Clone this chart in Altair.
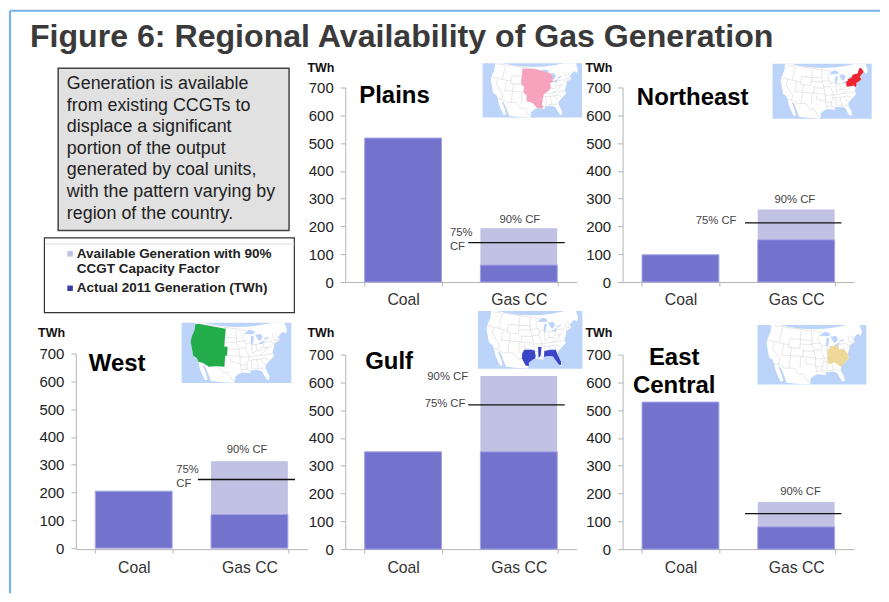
import altair as alt
import pandas as pd

FONT = "Liberation Sans"
title_text = "Figure 6: Regional Availability of Gas Generation"
box_lines = ["Generation is available", "from existing CCGTs to", "displace a significant",
             "portion of the output", "generated by coal units,", "with the pattern varying by",
             "region of the country."]
box_line_y = [82.5, 104.5, 126, 147.5, 169, 191, 212.5]
legend_lines = ["Available Generation with 90%", "CCGT Capacity Factor", "Actual 2011 Generation (TWh)"]

categories = ["Coal", "Gas CC"]
tick_values = [0, 100, 200, 300, 400, 500, 600, 700]

regions = ["Plains", "Northeast", "West", "Gulf", "East Central"]
coal = [518, 98, 205, 350, 529]
gas_actual = [61, 152, 121, 350, 80]
gas_available = [194, 261, 313, 623, 170]
cf75 = [142, 213, 247, 519, 128]

BAR = "#7373cd"
EDGE = "#a3a3e6"
HATCH = "#c1c1e3"
OCEAN = "#bcd4fa"

land = [(-128, 50), (-125, 50), (-124.7, 48.4), (-124, 46), (-124.5, 42.8), (-124.3, 40.4), (-122.5, 37.7),
        (-120.6, 34.6), (-118.4, 34), (-117.1, 32.5), (-115.8, 30), (-114.4, 28), (-113.2, 26.5), (-112, 25),
        (-110.8, 25.5), (-112, 28), (-114.7, 31.7), (-113, 31), (-110.5, 27.5), (-109, 25), (-103, 25), (-97.7, 25),
        (-97.2, 26), (-97.2, 27.8),
        (-95, 29.2), (-93.5, 29.7), (-91, 29.3), (-89.2, 29.1), (-89.5, 30.3), (-86, 30.4), (-84.2, 30),
        (-83, 29), (-82.7, 27.8), (-81.8, 26), (-81, 25.1), (-80.2, 25.5), (-80.1, 27), (-81.3, 30.5),
        (-80.9, 32), (-79, 33.3), (-77.8, 34), (-75.6, 35.3), (-76, 37), (-75, 38.5), (-74.1, 39.8),
        (-74, 40.6), (-72, 41), (-70, 41.7), (-70.7, 43), (-69, 44), (-67, 44.8), (-65.5, 43.6), (-64, 45),
        (-64, 50), (-72, 50), (-80, 50), (-88, 50), (-96, 50), (-104, 50), (-112, 50), (-120, 50)]
lakes = [
    [(-92, 46.8), (-88, 48.6), (-85, 47.8), (-84.7, 46.6), (-87, 46.5), (-90, 46.7)],
    [(-87.8, 42), (-87.2, 41.7), (-86.3, 42.8), (-85.5, 45.5), (-87, 45.8), (-87.7, 44)],
    [(-84.6, 46), (-81, 46), (-80, 44.6), (-81.7, 43.2), (-82.5, 43), (-83.5, 44.2)],
    [(-83.4, 41.7), (-81, 41.5), (-78.9, 42.8), (-80.5, 42.7), (-82.7, 42.1)],
    [(-79.8, 43.2), (-76.4, 43.5), (-76.3, 44.1), (-79, 43.9)],
]
west_poly = [[(-124.7, 48.4), (-123, 49), (-104, 49), (-104, 41), (-102, 41), (-102, 37), (-103, 37), (-103, 32),
              (-106.5, 32), (-108.2, 31.8), (-111, 31.3), (-114.8, 32.5), (-117.1, 32.5), (-118.4, 34),
              (-120.6, 34.6), (-122.5, 37.7), (-124.3, 40.4), (-124.5, 42.8), (-124, 46)]]
plains_poly = [[(-104, 49), (-95, 49), (-89.5, 48), (-84.5, 46.5), (-83, 46), (-82.5, 43), (-83, 41.7), (-84.8, 41.7),
                (-84.8, 39), (-86, 38), (-88, 37), (-89.5, 36.5), (-90, 35), (-90.5, 33), (-91, 31), (-90, 30.2),
                (-91, 29.4), (-94, 29.8), (-95, 31), (-97, 32.5), (-100, 33), (-100, 36), (-102, 37), (-102, 40),
                (-104, 41)]]
northeast_poly = [[(-80.5, 42), (-79, 42.7), (-79, 43.3), (-76.5, 43.5), (-75, 45), (-71.5, 45), (-70, 46.7), (-69, 47.4),
                   (-67.8, 47), (-67, 44.8), (-69, 44), (-70.7, 43), (-70, 41.7), (-72, 41), (-74, 40.6), (-74, 39.8),
                   (-75, 38.5), (-75.7, 39.7), (-80.5, 39.7)]]
gulf_poly = [[(-101, 32), (-100, 33.8), (-96, 33.8), (-94, 33.5), (-93.5, 31), (-93.8, 29.7), (-95, 29.2), (-97.2, 27.8),
              (-97.2, 26), (-99, 26.5), (-101, 29.7)],
             [(-92, 35), (-90, 35), (-90.5, 32), (-91, 30.5), (-92, 30), (-92, 33)],
             [(-88.5, 33), (-85, 33.3), (-82, 33), (-81.4, 30.7), (-80.2, 27), (-80.5, 25.5), (-81.5, 25.8), (-82.8, 28),
              (-84, 30), (-86, 30.4), (-89, 30.3)]]
east_poly = [[(-87.5, 40), (-84.8, 41.7), (-80.6, 41.8), (-80.5, 39.7), (-77.5, 39.5), (-76, 37), (-75.6, 35.3),
              (-77.8, 34), (-79, 33.3), (-80.9, 32), (-82.5, 33), (-84, 34.5), (-86, 34), (-87.5, 34), (-88, 36.5),
              (-87.5, 38)]]
borders = [
    [(-123, 49), (-95, 49), (-89.5, 48)], [(-117.1, 32.5), (-114.8, 32.5), (-111, 31.3), (-108.2, 31.8), (-106.5, 32),
                                           (-103, 29.2), (-101, 29.7), (-99, 26.5), (-97.2, 26)],
    [(-117, 49), (-117, 42)], [(-124.3, 42), (-111, 42), (-111, 45)], [(-120, 42), (-120, 39), (-114.6, 35), (-114.8, 32.5)],
    [(-114, 42), (-114, 37)], [(-114, 37), (-94.6, 37)], [(-111, 42), (-111, 41), (-104, 41)], [(-109, 41), (-109, 31.8)],
    [(-111, 45), (-104, 45), (-96.5, 45)], [(-104, 49), (-104, 41)], [(-103, 37), (-103, 32)], [(-102, 41), (-102, 37)],
    [(-104, 43), (-96.5, 43)], [(-102, 40), (-95.3, 40)], [(-97, 49), (-96.5, 43), (-95.3, 40), (-94.6, 37), (-94.5, 33.6)],
    [(-100, 36.5), (-100, 34.5), (-94.5, 33.6), (-94, 30)], [(-96.5, 43.5), (-91.2, 43.5)], [(-92, 46.7), (-92.8, 45), (-91.2, 43.5),
     (-90.5, 41.5), (-91.5, 40.5), (-90.2, 38.7), (-89.5, 36.5), (-90, 35), (-91, 33), (-91, 31), (-89.7, 30.3)],
    [(-95.3, 40.6), (-91.5, 40.6)], [(-94.6, 36.5), (-89.5, 36.5), (-82, 36.6), (-75.9, 36.6)], [(-94.5, 33), (-91, 33)],
    [(-91, 31), (-94, 31)], [(-90.5, 42.5), (-87.7, 42.5)], [(-87.5, 41.7), (-87.5, 38)], [(-84.8, 41.7), (-84.8, 39)],
    [(-87.5, 41.7), (-83.4, 41.7)], [(-88, 37.5), (-84.8, 39), (-82.5, 38.5), (-80.5, 40.6), (-80.5, 42)],
    [(-90, 35), (-84.3, 35), (-81, 35.2), (-78.6, 33.9)], [(-88.2, 35), (-88.5, 30.3)], [(-85.6, 35), (-85, 31), (-87.6, 31)],
    [(-85, 31), (-81.5, 30.7)], [(-83.2, 35), (-81, 32.2)], [(-80.5, 39.7), (-75.7, 39.7)], [(-79.5, 39.7), (-78, 39), (-83.5, 36.6)],
    [(-80.5, 42), (-75.3, 42), (-75, 41), (-74, 41)], [(-73.5, 42), (-73.4, 45)], [(-71.5, 45), (-71, 43), (-70.7, 43)],
    [(-73.5, 42), (-70, 42)], [(-73.6, 41), (-71.8, 41), (-71.8, 42)],
]


def clockwise(ring):
    # d3-geo wants exterior rings clockwise; orient by the signed planar area
    closed = list(ring) + [ring[0]]
    area = sum(a[0] * b[1] - b[0] * a[1] for a, b in zip(closed, closed[1:]))
    if area > 0:
        closed = closed[::-1]
    return [list(p) for p in closed]


def polygon_features(polys):
    return [{"type": "Feature", "properties": {},
             "geometry": {"type": "Polygon", "coordinates": [clockwise(r)]}} for r in polys]


def line_features(lines):
    return [{"type": "Feature", "properties": {},
             "geometry": {"type": "LineString", "coordinates": [list(p) for p in l]}} for l in lines]


def text(content, x, y, size, color="#333", weight="normal", align="left", baseline="middle"):
    return alt.Chart(alt.Data(values=[{"a": 1}])).mark_text(
        text=content, font=FONT, fontSize=size, color=color, fontWeight=weight, align=align, baseline=baseline
    ).encode(x=alt.value(x), y=alt.value(y))


def box(x0, x1, y0, y1, fill, stroke=None, sw=1.0):
    kw = {"stroke": stroke, "strokeWidth": sw} if stroke else {}
    return alt.Chart(alt.Data(values=[{"a": 1}])).mark_rect(fill=fill, **kw).encode(
        x=alt.value(x0), x2=alt.value(x1), y=alt.value(y0), y2=alt.value(y1))


def rule(x0, x1, y0, y1, color, sw):
    return alt.Chart(alt.Data(values=[{"a": 1}])).mark_rule(color=color, strokeWidth=sw).encode(
        x=alt.value(x0), x2=alt.value(x1), y=alt.value(y0), y2=alt.value(y1))


def map_layers(rect, region, color, ox, oy):
    x0, x1, y0, y1 = rect[0] - ox, rect[1] - ox, rect[2] - oy, rect[3] - oy
    w = x1 - x0
    proj = dict(type="albers", scale=128 * w / 110, translate=[x0 + 0.5 * w, y0 + 0.49 * (y1 - y0)],
                clipExtent=[[x0, y0], [x1, y1]])

    def geo(features, **mark):
        return alt.Chart(alt.Data(values=features)).mark_geoshape(clip=False, **mark).project(**proj)

    return [
        box(x0, x1, y0, y1, OCEAN),
        geo(polygon_features([land]), fill="white", strokeWidth=0),
        geo(line_features(borders), filled=False, stroke="#cfcfcf", strokeWidth=0.5),
        geo(polygon_features(lakes), fill=OCEAN, strokeWidth=0),
        geo(polygon_features(region), fill=color, strokeWidth=0),
    ]


def panel(i, ox, oy, col_w, map_rect, map_poly, map_color, twh, names, labels, line_x, y_shift=0):
    df = pd.DataFrame({"cat": categories, "v": [coal[i], gas_actual[i]]})
    avail = pd.DataFrame({"cat": [categories[1]], "v": [gas_available[i]], "v2": [gas_actual[i]]})
    cf = pd.DataFrame({"v": [cf75[i]]})
    xs = alt.Scale(domain=categories, range=[0, 232], paddingInner=0.336, paddingOuter=0.168)
    ys = alt.Scale(domain=[0, 700], nice=False, range=[195 - y_shift, -y_shift])
    xaxis = alt.Axis(labelAngle=0, tickBand="extent", labelFontSize=15.8, labelColor="#333", labelFont=FONT,
                     labelPadding=7, tickSize=4, tickColor="#b5b5b5", domainColor="#b5b5b5", grid=False)
    yaxis = alt.Axis(values=tick_values, labelOverlap=False, labelFontSize=15, labelColor="#222", labelFont=FONT,
                     labelPadding=7, tickSize=5, tickColor="#b5b5b5", domainColor="#b5b5b5", grid=False)
    bars = alt.Chart(df).mark_bar(fill=BAR, stroke=EDGE, strokeWidth=1).encode(
        x=alt.X("cat:N", scale=xs, sort=categories, title=None, axis=xaxis),
        y=alt.Y("v:Q", scale=ys, title=None, axis=yaxis),
    )
    hatch = alt.Chart(avail).mark_bar(fill=HATCH).encode(
        x=alt.X("cat:N", scale=xs, sort=categories, title=None, axis=xaxis),
        y=alt.Y("v:Q", scale=ys, title=None, axis=yaxis), y2="v2:Q")
    line = alt.Chart(cf).mark_rule(color="#111", strokeWidth=1.3).encode(
        y=alt.Y("v:Q", scale=ys, title=None, axis=yaxis), x=alt.value(line_x[0] - ox), x2=alt.value(line_x[1] - ox))
    layers = map_layers(map_rect, map_poly, map_color, ox, oy) + [hatch, bars, line]
    layers.append(text("TWh", twh[0] - ox, twh[1] - oy, 12.5, "#111", "bold", "center"))
    for content, x, y, align in names:
        layers.append(text(content, x - ox, y - oy, 24, "#000", "bold", align, "alphabetic"))
    for content, x, y, align in labels:
        layers.append(text(content, x - ox, y - oy, 11.3, "#444", "normal", align))
    return alt.layer(*layers).properties(width=col_w, height=195)


# Left column, top: frame, title, note box and legend
O1X, O1Y = 75, 86
left_layers = [
    rule(9 - O1X, 881 - O1X, 9 - O1Y, 9 - O1Y, "#7db2e8", 2),
    rule(9 - O1X, 9 - O1X, 9 - O1Y, 593 - O1Y, "#7db2e8", 2.2),
    text(title_text, 29 - O1X, 45 - O1Y, 32.2, "#3a3a3a", "bold", "left", "alphabetic"),
    box(57.3 - O1X, 288.7 - O1X, 66.7 - O1Y, 229.3 - O1Y, "#e1e1e1", "#444", 1.5),
    box(43.5 - O1X, 294 - O1X, 236.7 - O1Y, 311.7 - O1Y, "white", "#333", 1.2),
    rule(44 - O1X, 294 - O1X, 243 - O1Y, 243 - O1Y, "#dddddd", 1),
    box(66.5 - O1X, 72 - O1X, 250 - O1Y, 255.5 - O1Y, HATCH),
    box(66.5 - O1X, 72 - O1X, 284.5 - O1Y, 290 - O1Y, "#3a3aa8"),
]
for line_text, yy in zip(box_lines, box_line_y):
    left_layers.append(text(line_text, 66 - O1X, yy - O1Y, 17.9, "#222"))
for line_text, yy in zip(legend_lines, [253, 268, 287]):
    left_layers.append(text(line_text, 76 - O1X, yy - O1Y, 13.5, "#222", "bold"))
left = alt.layer(*left_layers).properties(width=232, height=195)

plains = panel(0, 345, 86, 240, (482.7, 582.3, 61.7, 116), plains_poly, "#f7a3bd", (320.7, 66.7),
               [("Plains", 359, 101.7, "left")],
               [("90% CF", 520, 219, "center"), ("75%", 450, 232, "left"), ("CF", 450, 245.7, "left")], (468.3, 565))
northeast = panel(1, 623, 86, 232, (773.3, 872.7, 62.3, 117.3), northeast_poly, "#ee2430", (599.3, 66.7),
                  [("Northeast", 637.3, 103.3, "left")],
                  [("90% CF", 795.7, 199, "center"), ("75% CF", 716.7, 220.3, "center")], (745.7, 842.3))
west = panel(2, 75, 353.7, 232, (181, 291, 321.7, 382.3), west_poly, "#22ac4a", (50.7, 331.7),
             [("West", 88, 370, "left")],
             [("90% CF", 246.7, 449, "center"), ("75%", 175.7, 469.7, "left"), ("CF", 175.7, 483, "left")], (197.3, 294.7),
             y_shift=1)
gulf = panel(3, 345, 353.7, 240, (478, 582.7, 310, 368), gulf_poly, "#3a45c8", (320.7, 331.7),
             [("Gulf", 365, 368, "left")],
             [("90% CF", 447.7, 375.7, "center"), ("75% CF", 445, 403.7, "center")], (468.3, 565))
east = panel(4, 623, 353.7, 232, (758.3, 867.3, 324, 383.7), east_poly, "#edd898", (599.3, 331.7),
             [("East", 674.7, 364.3, "center"), ("Central", 674.7, 392.3, "center")],
             [("90% CF", 801.3, 491, "center")], (745.7, 842.3))

chart = alt.concat(left, plains, northeast, west, gulf, east, columns=3, bounds="flush",
                   spacing=alt.RowColnumber(row=72.7, column=38)).properties(padding=0).configure_view(stroke=None)

chart.save("out.html", embed_options={"renderer": "svg", "actions": False})
